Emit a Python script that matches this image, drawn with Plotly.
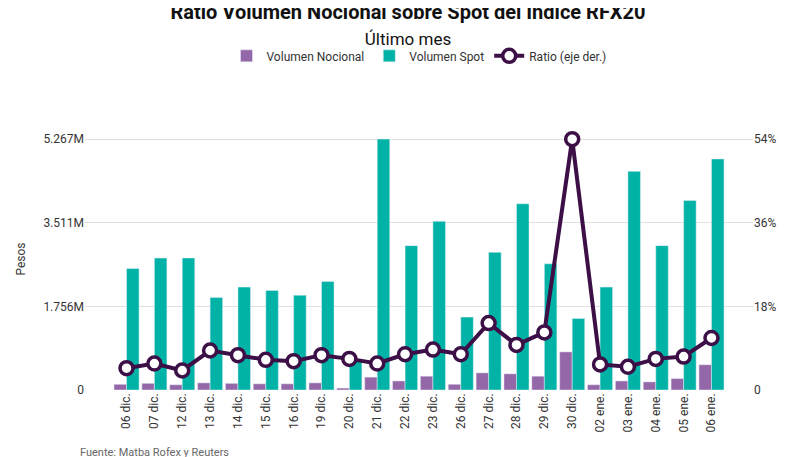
import plotly.graph_objects as go

fechas = ["06 dic.","07 dic.","12 dic.","13 dic.","14 dic.","15 dic.","16 dic.","19 dic.","20 dic.","21 dic.","22 dic.","23 dic.","26 dic.","27 dic.","28 dic.","29 dic.","30 dic.","02 ene.","03 ene.","04 ene.","05 ene.","06 ene."]
nocional = [0.12,0.14,0.11,0.15,0.14,0.13,0.13,0.15,0.04,0.27,0.19,0.29,0.12,0.36,0.34,0.29,0.80,0.11,0.19,0.17,0.24,0.53]
spot = [2.55,2.77,2.77,1.94,2.16,2.09,1.99,2.28,0.65,5.267,3.03,3.54,1.53,2.89,3.91,2.65,1.50,2.16,4.59,3.03,3.98,4.85]
ratio = [4.7,5.7,4.2,8.5,7.5,6.5,6.2,7.5,6.7,5.7,7.7,8.7,7.7,14.4,9.7,12.4,54,5.5,5.0,6.7,7.2,11.2]

left_ticks = [0,1.756,3.511,5.267]
left_labels = ["0","1.756M","3.511M","5.267M"]
right_ticks = [0,18,36,54]
right_labels = ["0","18%","36%","54%"]

fig = go.Figure()
fig.add_bar(x=fechas, y=nocional, name="Volumen Nocional", marker_color="#9467a8")
fig.add_bar(x=fechas, y=spot, name="Volumen Spot", marker_color="#00b3a6")
fig.add_scatter(x=fechas, y=ratio, name="Ratio (eje der.)", yaxis="y2", mode="lines+markers",
                line=dict(color="#3c0f47", width=4),
                marker=dict(size=13, color="white", line=dict(color="#3c0f47", width=3.5)))

fig.update_layout(
    width=800, height=457, plot_bgcolor="white", paper_bgcolor="white",
    font=dict(family="Roboto", color="#333", size=12),
    title=dict(text="<b>Ratio Volumen Nocional sobre Spot del Índice RFX20</b><br><span style='font-size:17px'>Último mes</span>",
               x=0.5, y=0.975, xanchor="center", font=dict(size=20, color="#111")),
    barmode="group", bargap=0.1, bargroupgap=0,
    margin=dict(l=75, r=55, t=120, b=75),
    legend=dict(orientation="h", x=0.5, xanchor="center", y=1.22, yanchor="bottom", font=dict(size=12)),
    xaxis=dict(tickangle=-90, showgrid=False, ticks="", tickfont=dict(size=12)),
    yaxis=dict(title=dict(text="Pesos", font=dict(size=12)), range=[0,5.5], tickvals=left_ticks, ticktext=left_labels,
               gridcolor="#e0e0e0", zeroline=False, showline=False),
    yaxis2=dict(overlaying="y", side="right", range=[0,56.4], tickvals=right_ticks, ticktext=right_labels,
                showgrid=False, zeroline=False),
    annotations=[dict(text="Fuente: Matba Rofex y Reuters", xref="paper", yref="paper", x=-0.01, y=-0.27,
                      xanchor="left", showarrow=False, font=dict(size=11, color="#666"))],
)
fig.write_html("out.html")
